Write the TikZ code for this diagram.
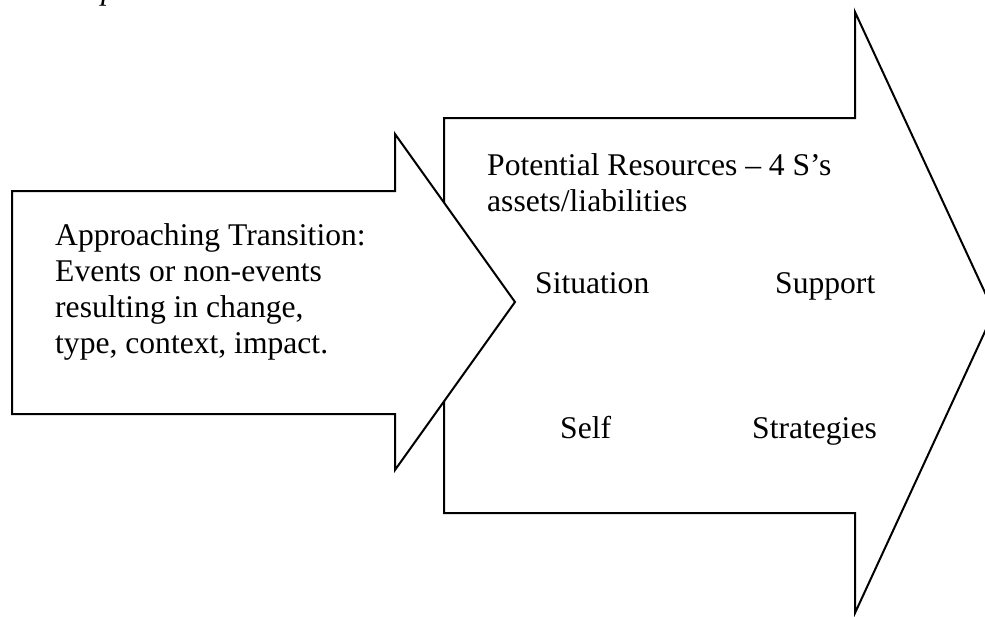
\documentclass[tikz,border=0pt]{standalone}
\usepackage{fontspec}
\setmainfont{Liberation Serif}
\begin{document}
\begin{tikzpicture}[x=1pt,y=-1pt,
  arrowshape/.style={draw=black,line width=2pt,fill=white,line join=miter},
  lbl/.style={anchor=base west,inner sep=0pt,font=\fontsize{31.6}{36}\selectfont},
  multi/.style={lbl,align=left}]
\useasboundingbox (0,0) rectangle (985,616);
\clip (0,0) rectangle (985,616);
\fill[white] (0,0) rectangle (985,616);
% cut-off italic text at top
\node[lbl] (cut) at (101,-1) {\itshape p};
% big arrow
\draw[arrowshape] (444,118) -- (855,118) -- (855,12) -- (994,312) -- (855,613) -- (855,513) -- (444,513) -- cycle;
% small arrow
\draw[arrowshape] (12,191) -- (395,191) -- (395,134) -- (515,302) -- (395,470) -- (395,414) -- (12,414) -- cycle;
% texts
\node[lbl] (t1) at (55,245) {Approaching Transition:};
\node[lbl] (t2) at (55,281) {Events or non-events};
\node[lbl] (t3) at (55,317) {resulting in change,};
\node[lbl] (t4) at (55,353) {type, context, impact.};
\node[lbl] (p1) at (487,175) {Potential Resources – 4 S’s};
\node[lbl] (p2) at (487,211) {assets/liabilities};
\node[lbl] (sit) at (535,293) {Situation};
\node[lbl] (sup) at (775,293) {Support};
\node[lbl] (self) at (560,438) {Self};
\node[lbl] (str) at (752,438) {Strategies};
\end{tikzpicture}
\end{document}
